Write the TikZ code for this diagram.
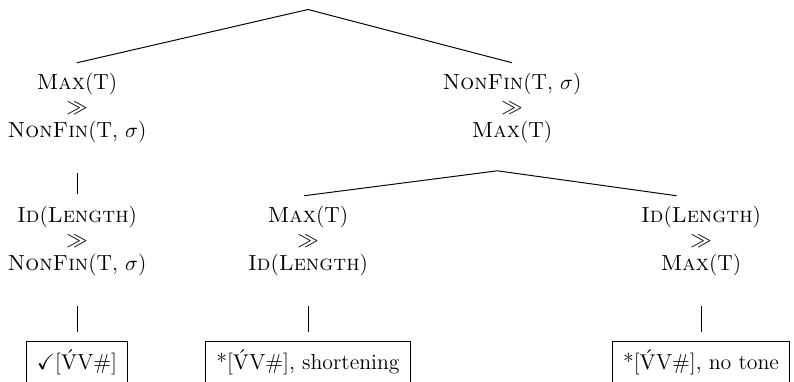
\documentclass[tikz,border=0pt]{standalone}
\usepackage{amssymb}
\newcommand{\Vac}{$\acute{\mathrm{V}}$}
\begin{document}
\begin{tikzpicture}[x=0.5128pt,y=-0.5128pt,
  font=\fontsize{11.2}{12.4}\selectfont,
  lab/.style={align=center,inner sep=0pt},
  resbox/.style={draw,line width=0.5pt,anchor=north,inner xsep=5.5pt,text height=11pt,text depth=12pt},
  br/.style={line width=0.5pt}]
\useasboundingbox (0,0) rectangle (794,381);
\coordinate (root) at (308,9.5);
\node[lab] (L1) at (77,108) {\textsc{Max}(T)\\$\gg$\\\textsc{NonFin}(T, $\sigma$)};
\node[lab] (R1) at (512,108) {\textsc{NonFin}(T, $\sigma$)\\$\gg$\\\textsc{Max}(T)};
\node[lab] (L2) at (77,241) {\textsc{Id}(\textsc{Length})\\$\gg$\\\textsc{NonFin}(T, $\sigma$)};
\node[lab] (M2) at (308,241) {\textsc{Max}(T)\\$\gg$\\\textsc{Id}(\textsc{Length})};
\node[lab] (R2) at (701,241) {\textsc{Id}(\textsc{Length})\\$\gg$\\\textsc{Max}(T)};
\node[resbox] (LB) at (77,341) {$\checkmark$[\Vac V\#]};
\node[resbox] (MB) at (308,341) {*[\Vac V\#], shortening};
\node[resbox] (RB) at (701,341) {*[\Vac V\#], no tone};
\draw[br] (root) -- ([yshift=5pt]L1.north);
\draw[br] (root) -- ([yshift=5pt]R1.north);
\draw[br] ([yshift=-15pt]L1.south) -- ([yshift=6pt]L2.north);
\draw[br] ([xshift=-7.5pt,yshift=-14pt]R1.south) -- ([xshift=-2pt,yshift=5pt]M2.north);
\draw[br] ([xshift=-7.5pt,yshift=-14pt]R1.south) -- ([xshift=-12.5pt,yshift=5pt]R2.north);
\draw[br] ([yshift=-15pt]L2.south) -- ([yshift=4.5pt]LB.north);
\draw[br] ([yshift=-15pt]M2.south) -- ([yshift=4.5pt]MB.north);
\draw[br] ([yshift=-15pt]R2.south) -- ([yshift=4.5pt]RB.north);
\end{tikzpicture}
\end{document}
